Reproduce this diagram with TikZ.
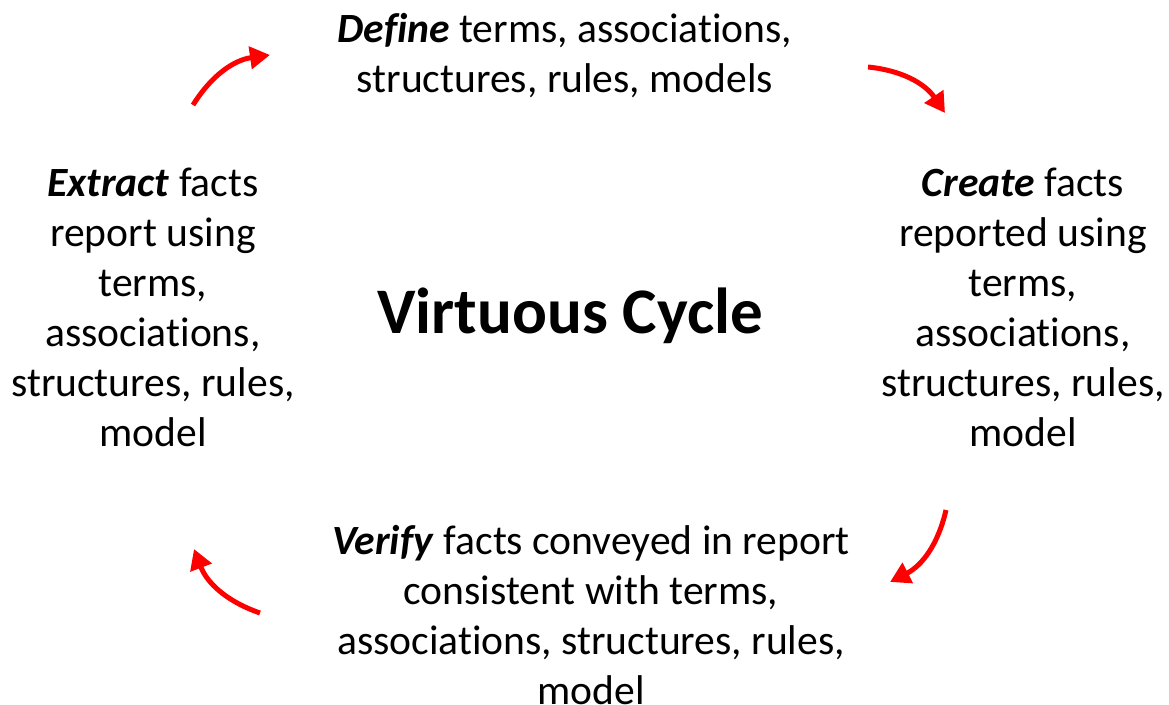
\documentclass[tikz,border=0pt]{standalone}
\usepackage{fontspec}
\setmainfont[Ligatures=NoCommon]{Carlito}
\usetikzlibrary{arrows.meta}
\begin{document}
\begin{tikzpicture}[x=0.5pt,y=-0.5pt,
  phase/.style={align=center,inner sep=0pt,font=\fontsize{20.8}{25}\selectfont},
  turn/.style={red,line width=2.5pt,-{Triangle[length=10pt,width=11pt]}}]
\useasboundingbox (0,0) rectangle (1169,705);
\node[font=\fontsize{32.5}{39}\selectfont\bfseries] (title) at (570,316) {Virtuous Cycle};
\node[phase] (define) at (565,56) {\textbf{\textit{Define}} terms, associations,\\structures, rules, models};
\node[phase] (create) at (1023,307) {\textbf{\textit{Create}} facts\\reported using\\terms,\\associations,\\structures, rules,\\model};
\node[phase] (extract) at (153,307) {\textbf{\textit{Extract}} facts\\report using\\terms,\\associations,\\structures, rules,\\model};
\node[phase] (verify) at (591,615) {\textbf{\textit{Verify}} facts conveyed in report\\consistent with terms,\\associations, structures, rules,\\model};
% arrow ends
\coordinate (s1) at (193,105); \coordinate (e1) at (270,55);
\coordinate (s2) at (868,67);  \coordinate (e2) at (945,113);
\coordinate (s3) at (946,510); \coordinate (e3) at (890,582);
\coordinate (s4) at (260,613); \coordinate (e4) at (194,549);
\foreach \i in {1,...,4}
  \draw[turn] (s\i) to[bend left=25] (e\i);
\end{tikzpicture}
\end{document}
